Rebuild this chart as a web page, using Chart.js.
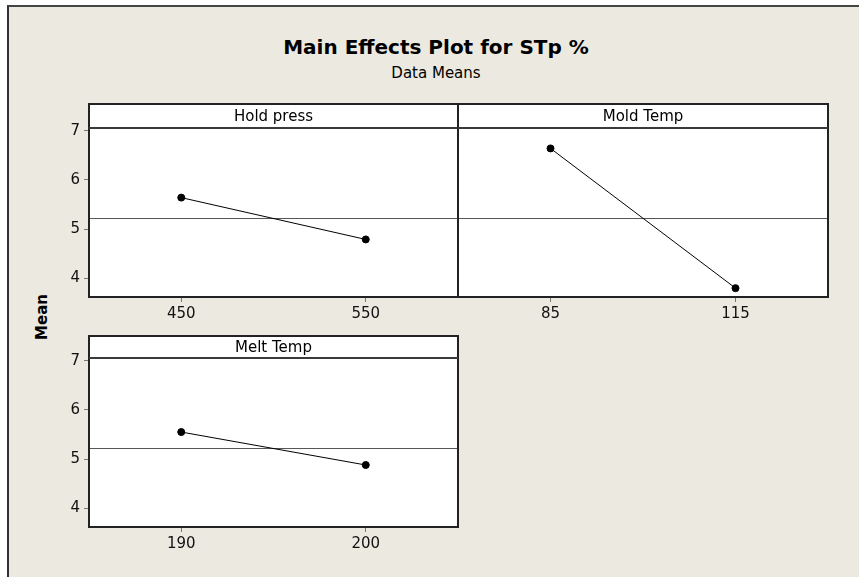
<!DOCTYPE html>
<html>
<head>
<meta charset="utf-8">
<script src="https://cdn.jsdelivr.net/npm/chart.js@4/dist/chart.umd.min.js"></script>
<style>
  html, body { margin: 0; padding: 0; background: #ffffff; }
  #page { position: relative; width: 859px; height: 577px; overflow: hidden; background: #ffffff; }
  #frame { position: absolute; left: 7px; top: 5px; width: 900px; height: 620px;
           background: #ECE9E0; border-left: 2px solid #333; border-top: 2px solid #444; box-sizing: border-box; }
  canvas.panel { position: absolute; left: 0; top: 0; }
  .txt { position: absolute; font-family: "DejaVu Sans", sans-serif; color: #000; white-space: nowrap; line-height: 1; }
  #title { left: 0; width: 872px; text-align: center; top: 37px; font-size: 20px; font-weight: bold; }
  #subtitle { left: 0; width: 872px; text-align: center; top: 66px; font-size: 15px; }
  #ylab { left: 42px; top: 317px; font-size: 15px; font-weight: bold; transform: translate(-50%, -50%) rotate(-90deg); }
</style>
</head>
<body>
<div id="page">
  <div id="frame"></div>
  <div class="txt" id="title">Main Effects Plot for STp %</div>
  <div class="txt" id="subtitle">Data Means</div>
  <div class="txt" id="ylab">Mean</div>
  <canvas class="panel" id="c1" width="859" height="577"></canvas>
  <canvas class="panel" id="c2" width="859" height="577"></canvas>
  <canvas class="panel" id="c3" width="859" height="577"></canvas>
</div>
<script>
// ---- data ----
const factors = ["Hold press", "Mold Temp", "Melt Temp"];
const holdPressLevels = ["450", "550"];
const holdPressMeans = [5.64, 4.79];
const moldTempLevels = ["85", "115"];
const moldTempMeans = [6.64, 3.80];
const meltTempLevels = ["190", "200"];
const meltTempMeans = [5.55, 4.88];
const grandMean = [5.215];
const yTicks = [4, 5, 6, 7];
const yRange = [3.62, 7.055];

const FONT = '"DejaVu Sans", sans-serif';

const panelPlugin = {
  id: 'panelBox',
  beforeDraw(chart, args, opts) {
    const a = chart.chartArea, ctx = chart.ctx;
    ctx.save();
    ctx.fillStyle = '#ffffff';
    ctx.fillRect(a.left, a.top - opts.stripH, a.right - a.left, a.bottom - a.top + opts.stripH);
    ctx.restore();
  },
  afterDraw(chart, args, opts) {
    const a = chart.chartArea, ctx = chart.ctx;
    ctx.save();
    ctx.lineWidth = 2;
    ctx.strokeStyle = '#222';
    ctx.strokeRect(a.left, a.top - opts.stripH, a.right - a.left, a.bottom - a.top + opts.stripH);
    ctx.strokeStyle = '#3a3a3a';
    ctx.beginPath();
    ctx.moveTo(a.left, a.top);
    ctx.lineTo(a.right, a.top);
    ctx.stroke();
    ctx.fillStyle = '#000';
    ctx.font = '15px ' + FONT;
    ctx.textAlign = 'center';
    ctx.textBaseline = 'middle';
    ctx.fillText(opts.label, (a.left + a.right) / 2, a.top - opts.stripH / 2 + 1);
    ctx.restore();
  }
};

function makePanel(id, label, levels, means, pad, stripH, showY) {
  return new Chart(document.getElementById(id), {
    type: 'line',
    data: {
      datasets: [
        {
          data: [{x: -0.5, y: grandMean[0]}, {x: 1.5, y: grandMean[0]}],
          borderColor: '#555',
          borderWidth: 1,
          pointRadius: 0,
          order: 2
        },
        {
          data: means.map((m, i) => ({x: i, y: m})),
          borderColor: '#000',
          borderWidth: 1,
          pointRadius: 3.5,
          pointBackgroundColor: '#000',
          pointBorderColor: '#000',
          order: 1
        }
      ]
    },
    options: {
      responsive: false,
      animation: false,
      devicePixelRatio: 1,
      layout: { autoPadding: false, padding: pad },
      plugins: {
        legend: { display: false },
        tooltip: { enabled: false },
        panelBox: { label: label, stripH: stripH }
      },
      scales: {
        x: {
          type: 'linear',
          min: -0.5, max: 1.5,
          afterBuildTicks: s => { s.ticks = levels.map((l, i) => ({value: i})); },
          afterFit: s => { s.height = 30; },
          ticks: { callback: v => levels[v], color: '#111', font: { family: FONT, size: 15 }, padding: 3, maxRotation: 0 },
          grid: { drawOnChartArea: false, drawTicks: true, tickLength: 5, color: '#777' },
          border: { display: false }
        },
        y: {
          type: 'linear',
          display: showY,
          min: yRange[0], max: yRange[1],
          afterBuildTicks: s => { s.ticks = yTicks.map(v => ({value: v})); },
          afterFit: s => { s.width = showY ? 30 : 0; },
          ticks: { color: '#111', font: { family: FONT, size: 15 }, padding: 4 },
          grid: { drawOnChartArea: false, drawTicks: true, tickLength: 5, color: '#777' },
          border: { display: false }
        }
      }
    },
    plugins: [panelPlugin]
  });
}

makePanel('c1', factors[0], holdPressLevels, holdPressMeans, {left: 59, right: 401, top: 128, bottom: 250}, 24, true);
makePanel('c2', factors[1], moldTempLevels, moldTempMeans, {left: 458, right: 31, top: 128, bottom: 250}, 24, false);
makePanel('c3', factors[2], meltTempLevels, meltTempMeans, {left: 59, right: 401, top: 358, bottom: 20}, 22, true);
</script>
</body>
</html>
